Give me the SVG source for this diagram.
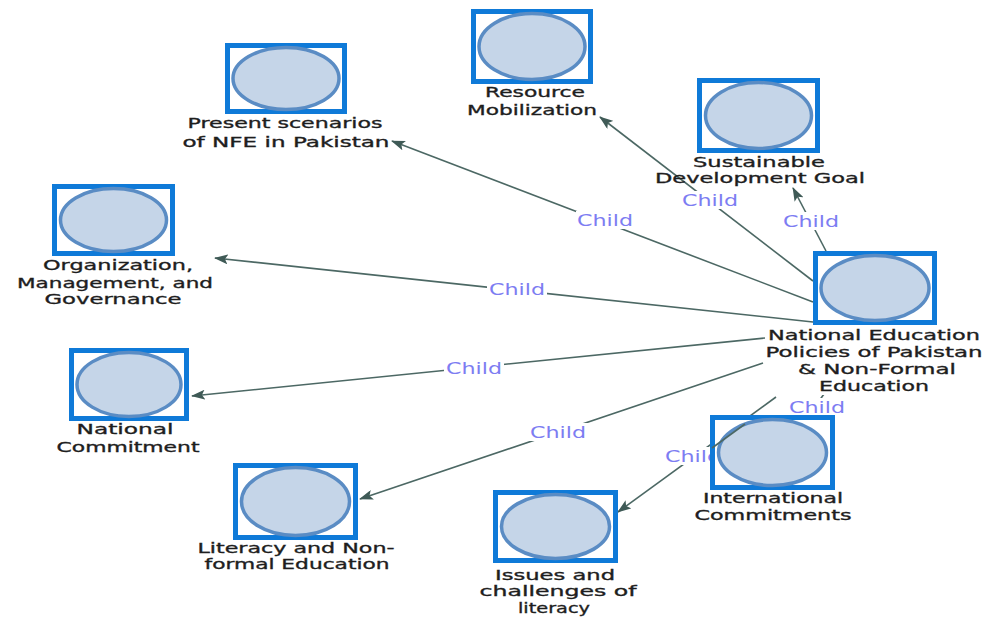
<svg xmlns="http://www.w3.org/2000/svg" width="984" height="617" viewBox="0 0 984 617">
<style>
.box{fill:#fff;stroke:#0f7ad8;stroke-width:5}
.ell{fill:#c5d5e8;stroke:#5a8cc4;stroke-width:3.5}
.lbl{font-family:"DejaVu Sans",Verdana,sans-serif;font-size:14.5px;fill:#1e1e1e;stroke:#1e1e1e;stroke-width:0.35;text-anchor:middle}
.edge{fill:none;stroke:#4c6864;stroke-width:1.6;marker-end:url(#arr)}
.clbl{font-family:"DejaVu Sans",Verdana,sans-serif;font-size:15px;fill:#7d7df2;text-anchor:middle}
.cbg{fill:#fff}
</style>
<defs>
<marker id="arr" markerWidth="14" markerHeight="10" refX="13" refY="5" orient="auto" markerUnits="userSpaceOnUse">
<path d="M0,0 L14,5 L0,10 L3,5 Z" fill="#3f5a56"/>
</marker>
</defs>
<rect width="984" height="617" fill="#fff"/>
<g id="connectors">
<path class="edge" d="M813,302 L392,141"/>
<path class="edge" d="M813,281 L600,117"/>
<path class="edge" d="M826,251 L793,188"/>
<path class="edge" d="M813,322 L215,258"/>
<path class="edge" d="M765,338 L192,396"/>
<path class="edge" d="M763,363 L360,499"/>
<path class="edge" d="M776,397 L618,512"/>
<path d="M824,394 L819,401" fill="none" stroke="#4c6864" stroke-width="1.6"/>
<rect class="cbg" x="576" y="211" width="60" height="18"/>
<text class="clbl" x="605" y="226" textLength="56" lengthAdjust="spacingAndGlyphs">Child</text>
<rect class="cbg" x="680" y="191" width="60" height="18"/>
<text class="clbl" x="710" y="206" textLength="56" lengthAdjust="spacingAndGlyphs">Child</text>
<rect class="cbg" x="782" y="212" width="58" height="18"/>
<text class="clbl" x="811" y="227" textLength="56" lengthAdjust="spacingAndGlyphs">Child</text>
<rect class="cbg" x="487" y="280" width="60" height="18"/>
<text class="clbl" x="517" y="295" textLength="56" lengthAdjust="spacingAndGlyphs">Child</text>
<rect class="cbg" x="444" y="359" width="60" height="18"/>
<text class="clbl" x="474" y="374" textLength="56" lengthAdjust="spacingAndGlyphs">Child</text>
<rect class="cbg" x="528" y="423" width="60" height="18"/>
<text class="clbl" x="558" y="438" textLength="56" lengthAdjust="spacingAndGlyphs">Child</text>
<rect class="cbg" x="663" y="447" width="60" height="18"/>
<text class="clbl" x="693" y="462" textLength="56" lengthAdjust="spacingAndGlyphs">Child</text>
<rect class="cbg" x="787" y="398" width="60" height="18"/>
<text class="clbl" x="817" y="413" textLength="56" lengthAdjust="spacingAndGlyphs">Child</text>
</g>
<g id="node-present">
<text class="lbl" x="285" y="128" textLength="195" lengthAdjust="spacingAndGlyphs">Present scenarios</text>
<text class="lbl" x="286" y="147" textLength="207" lengthAdjust="spacingAndGlyphs">of NFE in Pakistan</text>
<rect class="box" x="227.5" y="45.5" width="117" height="66"/>
<ellipse class="ell" cx="286" cy="78.5" rx="53" ry="31"/>
</g>
<g id="node-resource">
<text class="lbl" x="535" y="97" textLength="100" lengthAdjust="spacingAndGlyphs">Resource</text>
<text class="lbl" x="532" y="115" textLength="130" lengthAdjust="spacingAndGlyphs">Mobilization</text>
<rect class="box" x="473.5" y="11.5" width="117" height="70"/>
<ellipse class="ell" cx="532" cy="46.5" rx="53" ry="33"/>
</g>
<g id="node-sdg">
<text class="lbl" x="759" y="167" textLength="132" lengthAdjust="spacingAndGlyphs">Sustainable</text>
<text class="lbl" x="760" y="183" textLength="210" lengthAdjust="spacingAndGlyphs">Development Goal</text>
<rect class="box" x="699.5" y="80.5" width="118" height="70"/>
<ellipse class="ell" cx="758.5" cy="115.5" rx="53" ry="33"/>
</g>
<g id="node-org">
<text class="lbl" x="118" y="270" textLength="150" lengthAdjust="spacingAndGlyphs">Organization,</text>
<text class="lbl" x="115" y="288" textLength="196" lengthAdjust="spacingAndGlyphs">Management, and</text>
<text class="lbl" x="113" y="304" textLength="137" lengthAdjust="spacingAndGlyphs">Governance</text>
<rect class="box" x="54.5" y="186.5" width="118" height="67"/>
<ellipse class="ell" cx="113.5" cy="220" rx="53" ry="31.5"/>
</g>
<g id="node-main">
<rect fill="#fff" x="765" y="327" width="219" height="68"/>
<text class="lbl" x="874" y="340" textLength="212" lengthAdjust="spacingAndGlyphs">National Education</text>
<text class="lbl" x="874" y="357" textLength="217" lengthAdjust="spacingAndGlyphs">Policies of Pakistan</text>
<text class="lbl" x="877" y="374" textLength="158" lengthAdjust="spacingAndGlyphs">&amp; Non-Formal</text>
<text class="lbl" x="874" y="391" textLength="110" lengthAdjust="spacingAndGlyphs">Education</text>
<rect class="box" x="815.5" y="253.5" width="119" height="69"/>
<ellipse class="ell" cx="875" cy="288" rx="54" ry="32.5"/>
</g>
<g id="node-natcommit">
<text class="lbl" x="125" y="434" textLength="97" lengthAdjust="spacingAndGlyphs">National</text>
<text class="lbl" x="128" y="452" textLength="143" lengthAdjust="spacingAndGlyphs">Commitment</text>
<rect class="box" x="71.5" y="350.5" width="115" height="68"/>
<ellipse class="ell" cx="129" cy="384.5" rx="52" ry="32"/>
</g>
<g id="node-intl">
<text class="lbl" x="773" y="503" textLength="140" lengthAdjust="spacingAndGlyphs">International</text>
<text class="lbl" x="773" y="520" textLength="157" lengthAdjust="spacingAndGlyphs">Commitments</text>
<rect class="box" x="712.5" y="417.5" width="120" height="70"/>
<ellipse class="ell" cx="772.5" cy="452.5" rx="54" ry="33"/>
<path d="M745,424 L712,448" fill="none" stroke="#4c6864" stroke-width="1.6"/>
</g>
<g id="node-literacy">
<text class="lbl" x="296" y="553" textLength="197" lengthAdjust="spacingAndGlyphs">Literacy and Non-</text>
<text class="lbl" x="297" y="569" textLength="185" lengthAdjust="spacingAndGlyphs">formal Education</text>
<rect class="box" x="235.5" y="465.5" width="120" height="72"/>
<ellipse class="ell" cx="295.5" cy="501.5" rx="54" ry="34"/>
</g>
<g id="node-issues">
<text class="lbl" x="555" y="580" textLength="120" lengthAdjust="spacingAndGlyphs">Issues and</text>
<text class="lbl" x="558" y="596" textLength="157" lengthAdjust="spacingAndGlyphs">challenges of</text>
<text class="lbl" x="554" y="613" textLength="72" lengthAdjust="spacingAndGlyphs">literacy</text>
<rect class="box" x="495.5" y="492.5" width="120" height="68"/>
<ellipse class="ell" cx="555.5" cy="526.5" rx="54" ry="32"/>
</g>
</svg>
